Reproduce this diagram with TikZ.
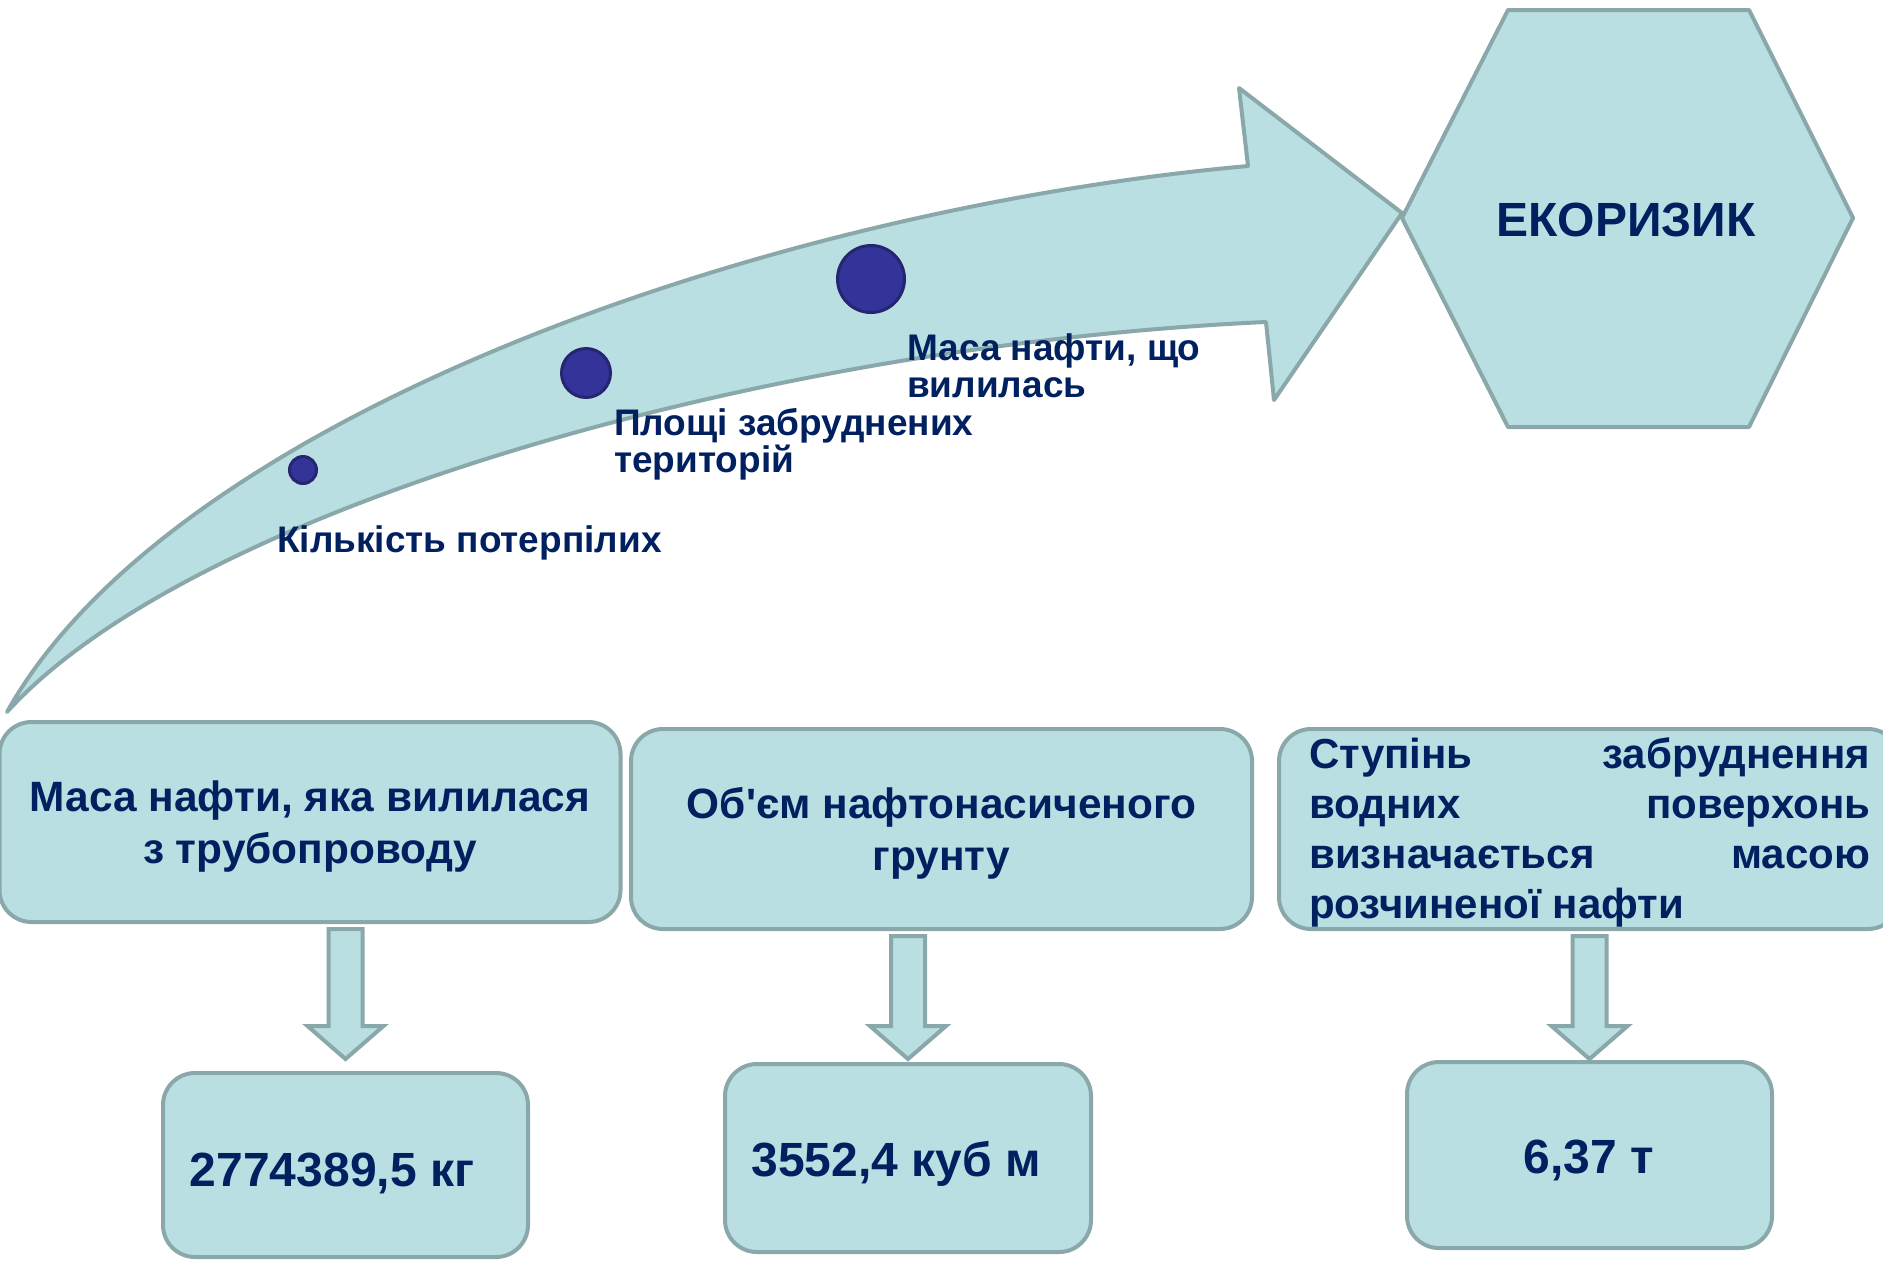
\documentclass[tikz,border=0pt]{standalone}
\usepackage{fontspec}
\setmainfont[Ligatures=TeXOff]{Liberation Sans}
\usetikzlibrary{calc}
\definecolor{boxfill}{RGB}{185,223,226}
\definecolor{boxline}{RGB}{138,168,170}
\definecolor{navy}{RGB}{0,32,96}
\definecolor{dotfill}{RGB}{51,51,153}
\definecolor{dotline}{RGB}{38,38,112}
% block arrow pointing down from one box to the box below it
\newcommand\dropArrow[2]{%
  \draw[blockarrow] let \p1=(#1.south), \p2=(#2.north) in
    (\x2-17pt,\y1-5pt) -- (\x2+17pt,\y1-5pt) -- (\x2+17pt,-1026pt)
    -- (\x2+38pt,-1026pt) -- (\x2,-1059pt) -- (\x2-38pt,-1026pt)
    -- (\x2-17pt,-1026pt) -- cycle;}
\begin{document}
\begin{tikzpicture}[x=1pt,y=-1pt,
  filledshape/.style={fill=boxfill,draw=boxline,line width=4pt,line join=round},
  blockarrow/.style={filledshape,line join=miter},
  rbox/.style={filledshape,rectangle,rounded corners=32pt,inner sep=0pt},
  dotnode/.style={circle,fill=dotfill,draw=dotline,line width=3pt,inner sep=0pt},
  lbl/.style={text=navy,inner sep=0pt,font=\fontsize{37}{37}\selectfont\bfseries},
  txt/.style={text=navy,inner sep=0pt,font=\fontsize{42.4}{52}\selectfont\bfseries},
  txtj/.style={text=navy,inner sep=0pt,font=\fontsize{42}{50}\selectfont\bfseries},
  val/.style={text=navy,inner sep=0pt,font=\fontsize{48}{50}\selectfont\bfseries},
  title/.style={text=navy,inner sep=0pt,font=\fontsize{48}{50}\selectfont\bfseries}]
\useasboundingbox (0,0) rectangle (1883,1262);

% curved growing arrow
\draw[filledshape]
  (7,712) .. controls (170,420) and (760,210) .. (1248,166)
  -- (1239,88) -- (1402,213) -- (1274,400) -- (1266,322)
  .. controls (760,345) and (190,510) .. (7,712) -- cycle;

% hexagon with the result
\coordinate (ecoc) at (1628,218);
\draw[filledshape] ($(ecoc)+(-226,0)$) -- ($(ecoc)+(-120,-208)$) -- ($(ecoc)+(121,-208)$)
  -- ($(ecoc)+(225,0)$) -- ($(ecoc)+(121,209)$) -- ($(ecoc)+(-120,209)$) -- cycle;
\node[title,anchor=base] (eco) at (1626,236) {ЕКОРИЗИК};

% factors along the arrow
\node[dotnode,minimum size=27pt] (d1) at (303,470) {};
\node[dotnode,minimum size=49pt] (d2) at (586,373) {};
\node[dotnode,minimum size=67pt] (d3) at (871,279) {};
\node[lbl,anchor=base west] (l1) at (277,552) {Кількість потерпілих};
\node[lbl,anchor=base west] (l2) at (614,435) {\parbox[t]{420pt}{\raggedright Площі забруднених\\територій}};
\node[lbl,anchor=base west] (l3) at (907,360) {\parbox[t]{420pt}{\raggedright Маса нафти, що\\вилилась}};

% source quantities
\node[rbox,minimum width=621pt,minimum height=200pt] (b1) at (310,822) {};
\node[rbox,minimum width=621pt,minimum height=200pt] (b2) at (941.5,829) {};
\node[rbox,minimum width=621pt,minimum height=200pt] (b3) at (1589.5,829) {};
\node[txt,anchor=base] (t1) at (310,811) {\parbox[t]{600pt}{\centering Маса нафти, яка вилилася\\з трубопроводу}};
\node[txt,anchor=base] (t2) at (941.5,818) {\parbox[t]{600pt}{\centering Об'єм нафтонасиченого\\грунту}};
\node[txtj,anchor=base west] (t3) at (1309,768) {\parbox[t]{561pt}{%
  \hbox to 561pt{Ступінь\hfill забруднення}
  \hbox to 561pt{водних\hfill поверхонь}
  \hbox to 561pt{визначається\hfill масою}
  \hbox{розчиненої нафти}}};

% computed values
\node[rbox,minimum width=365pt,minimum height=184pt] (v1) at (345.5,1165) {};
\node[rbox,minimum width=366pt,minimum height=188pt] (v2) at (908,1158) {};
\node[rbox,minimum width=365pt,minimum height=186pt] (v3) at (1589.5,1155) {};
\node[val,anchor=base] (v1t) at (332,1186) {2774389,5 кг};
\node[val,anchor=base] (v2t) at (896,1176) {3552,4 куб м};
\node[val,anchor=base] (v3t) at (1589,1173) {6,37 т};

\dropArrow{b1}{v1}
\dropArrow{b2}{v2}
\dropArrow{b3}{v3}
\end{tikzpicture}
\end{document}
